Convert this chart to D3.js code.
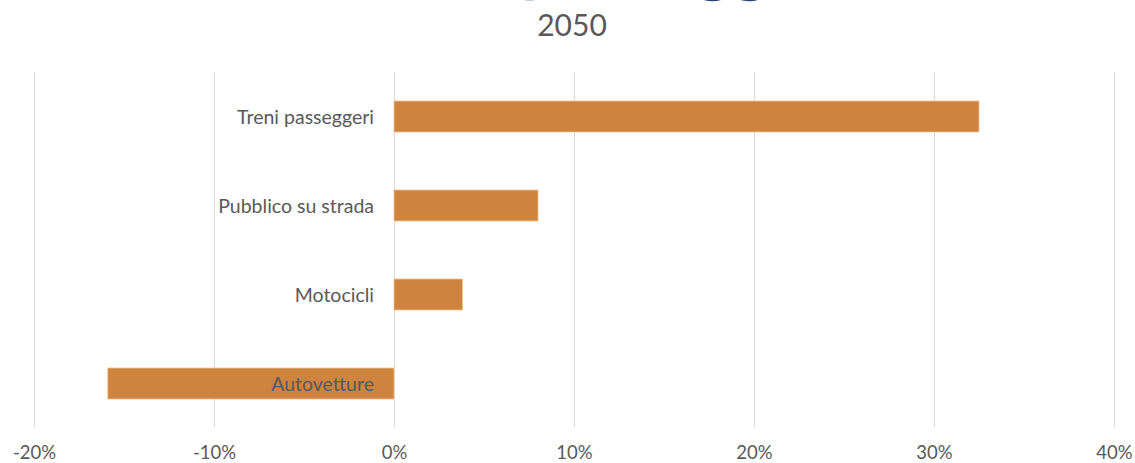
<!DOCTYPE html>
<html>
<head>
<meta charset="utf-8">
<script src="https://cdn.jsdelivr.net/npm/d3@7"></script>
<style>
  html, body { margin: 0; padding: 0; background: #fff; }
  svg { display: block; }
</style>
</head>
<body>
<svg id="chart" width="1135" height="463"></svg>
<script>
// Variazione percentuale per modo di trasporto, 2050
const categories = ["Treni passeggeri", "Pubblico su strada", "Motocicli", "Autovetture"];
const values = [32.5, 8.0, 3.8, -15.9];
const tickValues = [-20, -10, 0, 10, 20, 30, 40];
const titleText = "Traffico passeggeri";
const subtitleText = "2050";

const W = 1135, H = 463;
const svg = d3.select("#chart");
const font = "Lato, 'Open Sans', sans-serif";

const x = d3.scaleLinear().domain([-20, 40]).range([34, 1114]);
const y = d3.scaleBand().domain(categories).range([72, 428]).paddingInner(0.652).paddingOuter(0.326);

// vertical gridlines
svg.append("g")
  .selectAll("line")
  .data(tickValues)
  .join("line")
  .attr("x1", d => x(d) + 0.5)
  .attr("x2", d => x(d) + 0.5)
  .attr("y1", 72)
  .attr("y2", 427)
  .attr("stroke", "#d9d9d9")
  .attr("stroke-width", 1);

// bars
svg.append("g")
  .selectAll("rect")
  .data(categories)
  .join("rect")
  .attr("x", (d, i) => Math.min(x(0), x(values[i])))
  .attr("y", d => y(d))
  .attr("width", (d, i) => Math.abs(x(values[i]) - x(0)))
  .attr("height", y.bandwidth())
  .attr("fill", "#ce843f")
  .attr("stroke", "#f2c08c")
  .attr("stroke-width", 0.8);

// category labels, right-aligned next to the zero line
svg.append("g")
  .selectAll("text")
  .data(categories)
  .join("text")
  .attr("x", x(0) - 20)
  .attr("y", d => y(d) + y.bandwidth() / 2)
  .attr("text-anchor", "end")
  .attr("dominant-baseline", "central")
  .attr("font-family", font)
  .attr("font-size", 19.5)
  .attr("fill", "#595959")
  .text(d => d);

// x axis tick labels
const xAxis = d3.axisBottom(x)
  .tickValues(tickValues)
  .tickFormat(d => d + "%")
  .tickSize(0)
  .tickPadding(0);
const gx = svg.append("g").attr("transform", "translate(0,446)").call(xAxis);
gx.select(".domain").remove();
gx.selectAll("text")
  .attr("font-family", font)
  .attr("font-size", 18.5)
  .attr("fill", "#595959");

// main title, sitting above the top edge of the drawing area
svg.append("text")
  .attr("x", 560)
  .attr("y", -12)
  .attr("text-anchor", "middle")
  .attr("font-family", font)
  .attr("font-size", 70)
  .attr("font-weight", "bold")
  .attr("fill", "#264478")
  .text(titleText);

svg.append("text")
  .attr("x", 572)
  .attr("y", 36)
  .attr("text-anchor", "middle")
  .attr("font-family", font)
  .attr("font-size", 30)
  .attr("fill", "#595959")
  .text(subtitleText);
</script>
</body>
</html>
